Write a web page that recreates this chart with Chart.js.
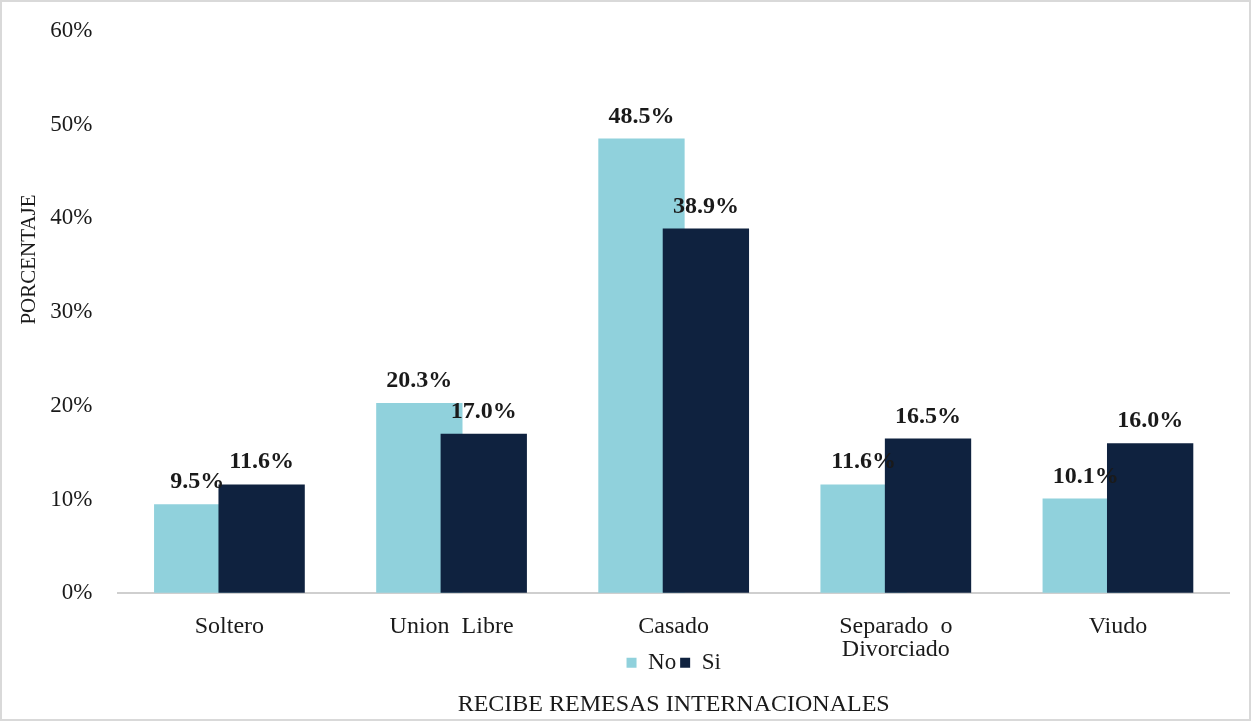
<!DOCTYPE html>
<html>
<head>
<meta charset="utf-8">
<script src="https://cdn.jsdelivr.net/npm/chart.js@4.4.0/dist/chart.umd.min.js"></script>
<style>
    html, body { margin: 0; padding: 0; background: #ffffff; }
    #wrap
    {
        width: 1251px;
        height: 721px;
        box-sizing: border-box;
        border: 2px solid #d9d9d9;
        background: #ffffff;
    }
</style>
</head>
<body>
<div id="wrap"><canvas id="remesasChart"></canvas></div>
<script>
// estado civil vs. recepción de remesas (porcentajes)
const categorias = ["Soltero", "Union  Libre", "Casado", ["Separado  o", "Divorciado"], "Viudo"];
const valoresNo = [9.5, 20.3, 48.5, 11.6, 10.1];
const valoresSi = [11.6, 17.0, 38.9, 16.5, 16.0];
const ticksY = [0, 10, 20, 30, 40, 50, 60];

const fuente = "'Liberation Serif', 'Times New Roman', serif";

// las barras "Si" se dibujan encima de las "No" (Chart.js lo hace al revés),
// y luego las etiquetas de valor sobre cada barra
const barrasYEtiquetas =
{
    id: "barrasYEtiquetas",
    beforeDatasetsDraw: function(chart)
    {
        for (let i = 0; i < chart.data.datasets.length; i++)
        {
            chart.getDatasetMeta(i).controller.draw();
        }
        return false;
    },
    afterDraw: function(chart)
    {
        const ctx = chart.ctx;
        ctx.save();
        ctx.font = "bold 24px " + fuente;
        ctx.fillStyle = "#1a1a1a";
        ctx.textAlign = "center";
        ctx.textBaseline = "alphabetic";
        chart.data.datasets.forEach(function(ds, i)
        {
            const meta = chart.getDatasetMeta(i);
            meta.data.forEach(function(bar, j)
            {
                ctx.fillText(ds.data[j].toFixed(1) + "%", bar.x, bar.y - 16);
            });
        });
        ctx.restore();
    }
};

// el eje x se achica para subir la leyenda; sin esto las etiquetas
// de dos líneas quedarían recortadas
const ejeSinRecorte =
{
    id: "ejeSinRecorte",
    afterLayout: function(chart)
    {
        chart.scales.x.bottom = chart.height;
    }
};

new Chart(document.getElementById("remesasChart"),
{
    type: "bar",
    data:
    {
        labels: categorias,
        datasets: [
            {
                label: "No",
                data: valoresNo,
                backgroundColor: "#90d1dc",
                categoryPercentage: 0.58,
                barPercentage: 1.34
            },
            {
                label: "Si",
                data: valoresSi,
                backgroundColor: "#0f223f",
                categoryPercentage: 0.58,
                barPercentage: 1.34
            }
        ]
    },
    options:
    {
        responsive: true,
        maintainAspectRatio: false,
        animation: false,
        layout: { padding: { top: 12, left: 15, right: 20, bottom: 0 } },
        plugins:
        {
            legend:
            {
                position: "bottom",
                fullSize: false,
                labels:
                {
                    boxWidth: 10,
                    boxHeight: 10,
                    padding: 4,
                    color: "#1a1a1a",
                    font: { family: fuente, size: 23 }
                }
            },
            title:
            {
                display: true,
                position: "bottom",
                fullSize: false,
                text: "RECIBE REMESAS INTERNACIONALES",
                color: "#1a1a1a",
                font: { family: fuente, size: 24, weight: "normal" },
                padding: { top: 6, bottom: 0 }
            },
            tooltip: { enabled: false }
        },
        scales:
        {
            x:
            {
                grid: { display: false, drawTicks: false },
                border: { display: true, color: "#cfcfcf", width: 2 },
                ticks:
                {
                    color: "#1a1a1a",
                    padding: 22,
                    maxRotation: 0,
                    font: { family: fuente, size: 24, lineHeight: 0.96 }
                },
                afterFit: function(scale) { scale.height = 54; }
            },
            y:
            {
                min: 0,
                max: 60,
                afterBuildTicks: function(scale)
                {
                    scale.ticks = ticksY.map(function(v) { return { value: v }; });
                },
                // marcas invisibles: sólo separan las etiquetas del área
                grid:
                {
                    display: true,
                    color: "rgba(0,0,0,0)",
                    drawOnChartArea: false,
                    drawTicks: true,
                    tickLength: 11
                },
                border: { display: false },
                title:
                {
                    display: true,
                    text: "                    PORCENTAJE",
                    color: "#1a1a1a",
                    font: { family: fuente, size: 21 },
                    padding: { top: 0, bottom: -7 }
                },
                ticks:
                {
                    color: "#1a1a1a",
                    padding: 15,
                    font: { family: fuente, size: 23 },
                    callback: function(v) { return v + "%"; }
                }
            }
        }
    },
    plugins: [barrasYEtiquetas, ejeSinRecorte]
});
</script>
</body>
</html>
